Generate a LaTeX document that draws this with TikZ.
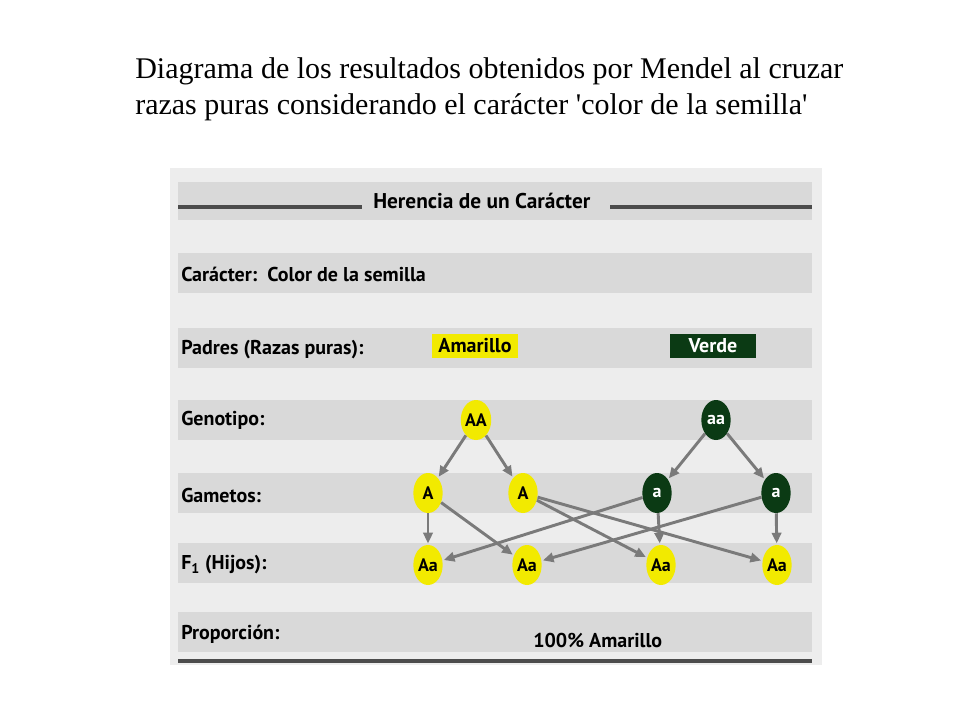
\documentclass[tikz,border=0pt]{standalone}
\usepackage{fontspec}
\setmainfont{Liberation Serif}
\newfontfamily\panelfont{PT Sans}
\usetikzlibrary{shapes.geometric,arrows.meta}
\definecolor{bandgray}{HTML}{D9D9D9}
\definecolor{panelgray}{HTML}{EDEDED}
\definecolor{seedyellow}{HTML}{F2EA00}
\definecolor{seedgreen}{HTML}{0B3A14}
\definecolor{arrowgray}{HTML}{7A7A7A}
\tikzset{
  band/.style={fill=bandgray, draw=none},
  rowlabel/.style={anchor=west, inner sep=0.75pt, font=\panelfont\bfseries\fontsize{15}{17}\selectfont},
  yseed/.style={ellipse, fill=seedyellow, minimum width=22pt, minimum height=30pt, inner sep=0pt, font=\panelfont\bfseries\fontsize{13.5}{15}\selectfont},
  gseed/.style={yseed, fill=seedgreen, text=white},
  cross/.style={-{Triangle[length=8pt,width=7pt]}, draw=arrowgray, line width=2.2pt, shorten >=1pt}
}
\begin{document}
\begin{tikzpicture}[x=0.75pt,y=0.75pt,yscale=-1,xscale=1]
\useasboundingbox (0,0) rectangle (960,720);

% caption
\node[anchor=north west, inner sep=0pt, align=left, font=\fontsize{22.5}{27.5}\selectfont] (caption) at (135,57)
  {Diagrama de los resultados obtenidos por Mendel al cruzar\\razas puras considerando el carácter \textquotesingle color de la semilla\textquotesingle};

% panel and bands
\fill[panelgray] (170,168) rectangle (822,665);
\fill[band] (178,182) rectangle (812,220);
\foreach \y in {253,328,400,473,543,612} {
  \fill[band] (178,\y) rectangle (812,\y+40);
}
\draw[line width=3pt, black!70] (178,207) -- (362,207);
\draw[line width=3pt, black!70] (610,207) -- (812,207);
\draw[line width=3pt, black!70] (178,661) -- (812,661);

% Text Node
\node[rowlabel, font=\panelfont\bfseries\fontsize{16}{18}\selectfont] (titulo) at (372,201) {Herencia de un Carácter};
\node[rowlabel] (caracter) at (180,274) {Carácter:\ \ Color de la semilla};
\node[rowlabel] (padres) at (180,350) {Padres (Razas puras):};
\node[rowlabel] (genotipo) at (180,420) {Genotipo:};
\node[rowlabel] (gametos) at (180,495) {Gametos:};
\node[rowlabel] (hijos) at (180,565) {F\textsubscript{1} (Hijos):};
\node[rowlabel] (proporcion) at (180,634) {Proporción:};
\node[rowlabel] (resultado) at (532,640) {100\% Amarillo};

% parents
\node[fill=seedyellow, minimum width=65pt, minimum height=18pt, inner sep=0pt, font=\panelfont\bfseries\fontsize{15}{17}\selectfont] (amarillo) at (475,346) {Amarillo};
\node[fill=seedgreen, text=white, minimum width=65pt, minimum height=18pt, inner sep=0pt, font=\panelfont\bfseries\fontsize{15}{17}\selectfont] (verde) at (713,346) {Verde};

% seeds
\node[yseed] (AA) at (476,420) {AA};
\node[gseed] (aa) at (716,420) {aa};
\node[yseed] (A1) at (428,493) {A};
\node[yseed] (A2) at (523,493) {A};
\node[gseed] (a1) at (657,493) {a};
\node[gseed] (a2) at (776,493) {a};
\node[yseed] (h1) at (428,565) {Aa};
\node[yseed] (h2) at (527,565) {Aa};
\node[yseed] (h3) at (661,565) {Aa};
\node[yseed] (h4) at (777,565) {Aa};

% arrows
\draw[cross] (AA) -- (A1);
\draw[cross] (AA) -- (A2);
\draw[cross] (aa) -- (a1);
\draw[cross] (aa) -- (a2);
\draw[cross] (A1) -- (h1);
\draw[cross] (A1) -- (h2);
\draw[cross] (A2) -- (h3);
\draw[cross] (A2) -- (h4);
\draw[cross] (a1) -- (h1);
\draw[cross] (a1) -- (h3);
\draw[cross] (a2) -- (h2);
\draw[cross] (a2) -- (h4);

\end{tikzpicture}
\end{document}
